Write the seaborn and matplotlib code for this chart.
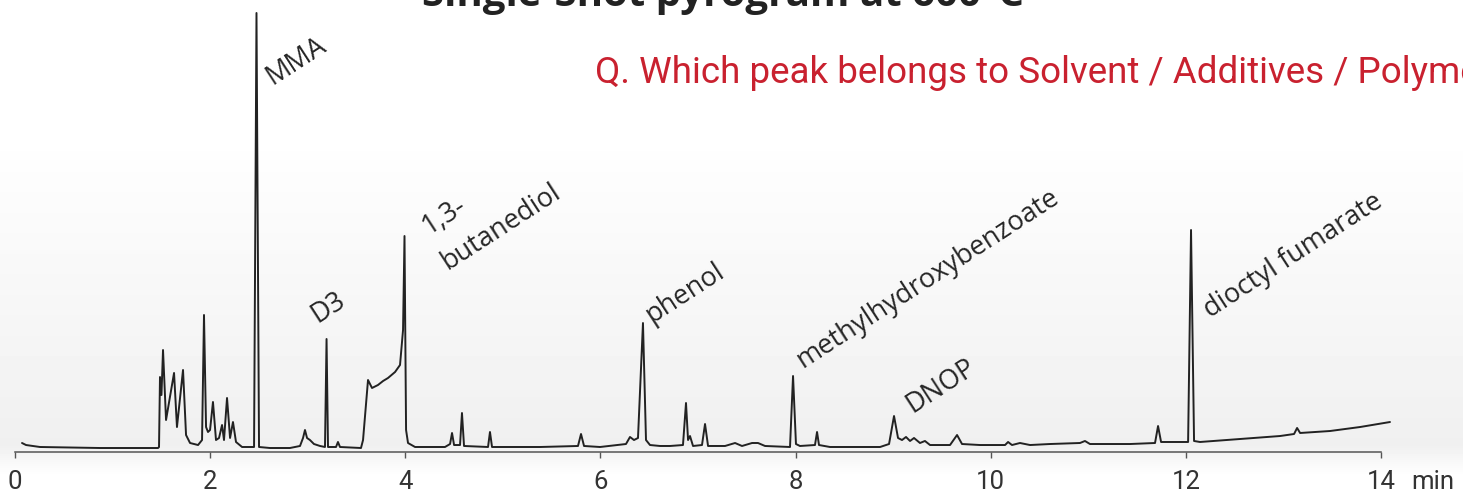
import numpy as np
import matplotlib
matplotlib.use("Agg")
import matplotlib.pyplot as plt
import seaborn as sns

# Pyrogram trace: retention time (min) and detector response (% of the MMA peak)
time_min = [
    0.072, 0.113, 0.256, 0.871, 1.466, 1.476, 1.486, 1.501, 1.517, 1.548,
    1.630, 1.660, 1.722, 1.753, 1.794, 1.876, 1.917, 1.937, 1.958, 1.978,
    1.999, 2.029, 2.060, 2.091, 2.122, 2.142, 2.173, 2.204, 2.234, 2.265,
    2.327, 2.450, 2.475, 2.501, 2.613, 2.818, 2.921, 2.952, 2.972, 2.993,
    3.023, 3.064, 3.126, 3.177, 3.193, 3.208, 3.290, 3.310, 3.331, 3.546,
    3.567, 3.618, 3.659, 3.720, 3.772, 3.823, 3.895, 3.946, 3.977, 3.992,
    4.008, 4.028, 4.100, 4.407, 4.459, 4.479, 4.500, 4.561, 4.581, 4.602,
    4.848, 4.868, 4.889, 5.381, 5.770, 5.801, 5.832, 5.996, 6.262, 6.303,
    6.344, 6.385, 6.436, 6.467, 6.508, 6.611, 6.713, 6.846, 6.877, 6.898,
    6.918, 6.949, 7.041, 7.072, 7.103, 7.277, 7.380, 7.451, 7.554, 7.615,
    7.687, 7.943, 7.974, 8.004, 8.045, 8.199, 8.220, 8.240, 8.353, 8.866,
    8.958, 9.009, 9.050, 9.091, 9.132, 9.173, 9.214, 9.275, 9.326, 9.378,
    9.583, 9.655, 9.706, 9.890, 10.147, 10.178, 10.218, 10.300, 10.403, 10.608,
    10.915, 10.966, 11.017, 11.428, 11.684, 11.715, 11.746, 12.023, 12.053, 12.084,
    12.145, 12.555, 12.965, 13.109, 13.140, 13.171, 13.477, 13.785, 14.092,
]
response = [
    2.05, 1.59, 1.14, 0.91, 0.91, 1.14, 17.08, 12.98, 23.23, 7.29,
    18.00, 5.69, 18.68, 3.87, 2.05, 1.59, 2.73, 31.21, 5.69, 4.56,
    5.01, 11.39, 2.73, 3.19, 6.15, 2.73, 12.30, 3.19, 6.83, 2.28,
    1.14, 1.14, 100.0, 1.14, 0.91, 0.91, 1.37, 3.19, 5.01, 3.19,
    2.73, 1.82, 1.37, 1.14, 25.74, 1.14, 1.14, 2.28, 1.14, 0.91,
    2.73, 16.40, 14.58, 15.26, 16.17, 16.86, 18.22, 19.82, 27.79, 49.20,
    5.01, 2.05, 1.14, 1.14, 1.82, 4.33, 1.59, 1.59, 8.88, 1.37,
    1.14, 4.56, 1.14, 1.14, 1.37, 4.10, 1.37, 1.14, 1.82, 3.42,
    2.73, 3.19, 29.38, 2.73, 1.59, 1.37, 1.37, 1.59, 11.16, 2.73,
    3.64, 1.37, 1.59, 6.38, 1.37, 1.37, 2.05, 1.37, 2.05, 2.05,
    1.37, 1.14, 17.31, 1.82, 1.37, 1.59, 4.56, 1.59, 1.14, 1.14,
    1.82, 8.20, 3.19, 2.73, 3.42, 2.51, 3.19, 2.05, 2.51, 1.59,
    1.59, 3.87, 1.82, 1.59, 1.59, 2.28, 1.59, 2.05, 1.59, 1.82,
    2.05, 2.51, 1.82, 1.82, 2.05, 5.92, 2.28, 2.28, 50.57, 2.51,
    2.28, 2.96, 3.64, 4.10, 5.47, 4.33, 4.78, 5.69, 6.83,
]

# Peak annotations (text start position in time / response units)
peak_names = ["MMA", "D3", "1,3-", "butanediol", "phenol",
              "methylhydroxybenzoate", "DNOP", "dioctyl fumarate"]
label_time = [2.634, 3.095, 4.233, 4.438, 6.529, 8.076, 9.193, 12.247]
label_resp = [83.6, 29.4, 49.4, 41.5, 29.4, 19.1, 8.9, 30.5]

tick_values = [0, 2, 4, 6, 8, 10, 12, 14]
tick_labels = ["0", "2", "4", "6", "8", "10", "12", "14"]

title_text = "Single-Shot pyrogram at 600°C"
question_text = "Q. Which peak belongs to Solvent / Additives / Polymer?"

sns.set_theme(style="white")
plt.rcParams["font.family"] = ["Open Sans", "DejaVu Sans"]

W, H = 1463, 500
fig = plt.figure(figsize=(W / 100, H / 100), dpi=100)
fig.patch.set_facecolor("white")

# soft grey wash behind the trace
bg = fig.add_axes([0, 0, 1, 1], zorder=-5)
rows = np.arange(H)
shade = np.ones(H)
ramp = (rows >= 130) & (rows < 445)
shade[ramp] = 1.0 - 0.06 * (rows[ramp] - 130) / (445 - 130)
fade = (rows >= 445) & (rows < 475)
shade[fade] = 0.94 + 0.06 * (rows[fade] - 445) / 30
img = np.repeat(shade[:, None], 4, axis=1)
bg.imshow(img, cmap="gray", vmin=0, vmax=1, aspect="auto", extent=[0, 1, 0, 1])
bg.set_axis_off()

ax = fig.add_axes([15 / W, 48 / H, 1366 / W, 452 / H])
ax.patch.set_alpha(0)

sns.lineplot(x=time_min, y=response, ax=ax, color="#222222", linewidth=1.4,
             estimator=None, sort=False)
for ln in ax.lines:
    ln.set_clip_on(False)

ax.set_xlim(0, 14)
ax.set_ylim(0, 452 / 4.39)
ax.set_yticks([])
ax.set_xticks(tick_values)
ax.set_xticklabels(tick_labels, family="Roboto")
for side in ("top", "right", "left"):
    ax.spines[side].set_visible(False)
ax.spines["bottom"].set_color("#555555")
ax.spines["bottom"].set_linewidth(1.1)
ax.tick_params(axis="x", direction="out", length=4, width=1.0, color="#555555",
               pad=9, labelsize=18.5, labelcolor="#333333", bottom=True)
ax.set_xlabel("")
ax.set_ylabel("")

ax.annotate("min", xy=(14, 0), xycoords="data", xytext=(22, -13),
            textcoords="offset points", ha="left", va="top",
            fontsize=18.5, color="#333333", family="Roboto",
            annotation_clip=False)

for name, t, r in zip(peak_names, label_time, label_resp):
    ax.text(t, r, name, rotation=33, rotation_mode="anchor", ha="left",
            va="baseline", fontsize=19.5, color="#262626")

fig.text(723 / W, 1 - 6 / H, title_text, ha="center", va="baseline",
         fontsize=29, fontweight="bold", color="#222222")
fig.text(595 / W, 1 - 83 / H, question_text, ha="left", va="baseline",
         fontsize=26.5, color="#c9212f", family="Roboto")

fig.savefig("out.png", dpi=100)
